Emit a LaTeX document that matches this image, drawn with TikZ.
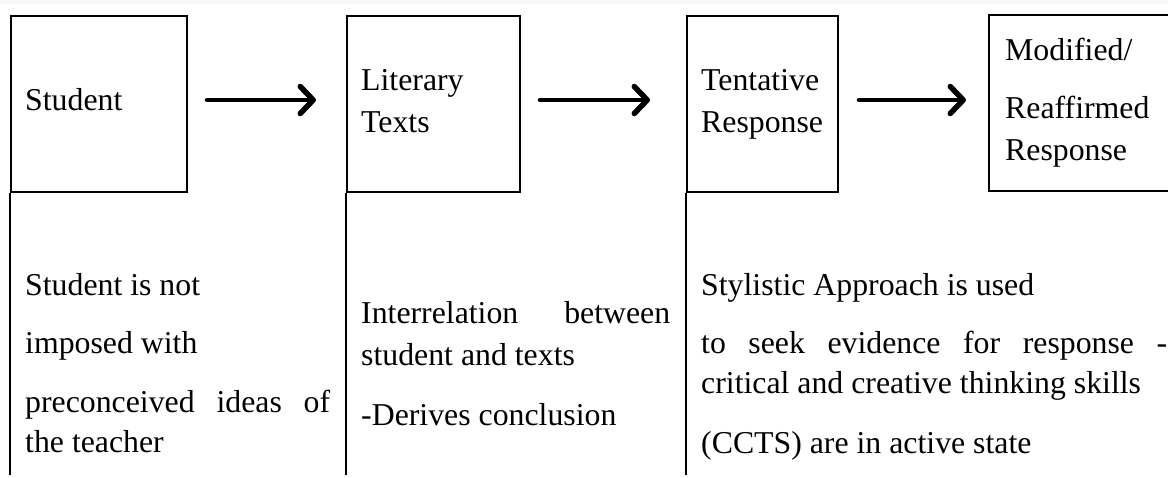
\documentclass[tikz,border=0pt]{standalone}
\usepackage{fontspec}
\setmainfont{Liberation Serif}
\usetikzlibrary{arrows.meta}
\begin{document}
\begin{tikzpicture}[x=1pt,y=-1pt,
  boxline/.style={draw=black,line width=2pt},
  stepbox/.style={boxline,rectangle,anchor=north west,inner sep=0pt},
  txt/.style={anchor=base west,inner sep=0pt,font=\fontsize{31.8}{38}\selectfont},
  flow/.style={line width=4.5pt,line cap=round,-{Straight Barb[length=13pt,width=27pt,line width=5.5pt,round]}}]
\useasboundingbox (0,0) rectangle (1168,477);
\fill[gray!6] (0,0) rectangle (1168,4);
% top boxes
\node[stepbox,minimum width=176pt,minimum height=176pt] (b1) at (10,15) {};
\node[stepbox,minimum width=173pt,minimum height=176pt] (b2) at (346,15) {};
\node[stepbox,minimum width=151pt,minimum height=176pt] (b3) at (686,15) {};
\coordinate (b4tl) at (989,15);
\coordinate (b4tr) at (1169,15);
\coordinate (b4bl) at (989,191);
\coordinate (b4br) at (1169,191);
\draw[boxline] (b4tr) -- (b4tl) -- (b4bl) -- (b4br);
% lower column lines
\coordinate (c1) at (10,475);
\coordinate (c2) at (346,475);
\coordinate (c3) at (686,475);
\draw[boxline] (b1.south west) -- (c1);
\draw[boxline] (b2.south west) -- (c2);
\draw[boxline] (b3.south west) -- (c3);
% arrows
\coordinate (a1s) at (207,100); \coordinate (a1e) at (316,100);
\coordinate (a2s) at (540,100); \coordinate (a2e) at (650,100);
\coordinate (a3s) at (859,100); \coordinate (a3e) at (966,100);
\draw[flow] (a1s) -- (a1e);
\draw[flow] (a2s) -- (a2e);
\draw[flow] (a3s) -- (a3e);
% top texts
\node[txt] (t1) at (25,110) {Student};
\node[txt] (t2a) at (361,90) {Literary};
\node[txt] (t2b) at (361,132) {Texts};
\node[txt] (t3a) at (701,90) {Tentative};
\node[txt] (t3b) at (701,132) {Response};
\node[txt] (t4a) at (1005,60) {Modified/};
\node[txt] (t4b) at (1005,118) {Reaffirmed};
\node[txt] (t4c) at (1005,160) {Response};
% lower texts
\node[txt] (l1a) at (25,295) {Student is not};
\node[txt] (l1b) at (25,353) {imposed with};
\node[txt] (l1c) at (25,412) {\makebox[305pt][s]{preconceived ideas of}};
\node[txt] (l1d) at (25,452) {the teacher};
\node[txt] (l2a) at (361,323) {\makebox[309pt][s]{Interrelation between}};
\node[txt] (l2b) at (361,365) {student and texts};
\node[txt] (l2c) at (361,425) {-Derives conclusion};
\node[txt] (l3a) at (701,295) {Stylistic Approach is used};
\node[txt] (l3b) at (701,353) {\makebox[466pt][s]{to seek evidence for response -}};
\node[txt] (l3c) at (701,393) {critical and creative thinking skills};
\node[txt] (l3d) at (701,453) {(CCTS) are in active state};
\end{tikzpicture}
\end{document}
